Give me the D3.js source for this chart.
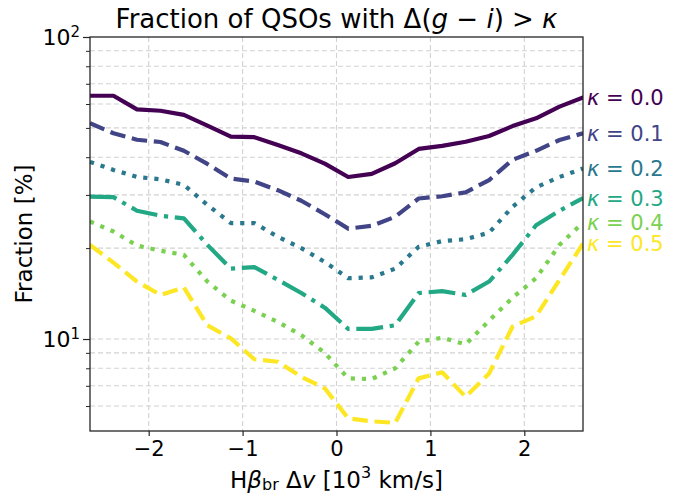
<!DOCTYPE html>
<html>
<head>
<meta charset="utf-8">
<script src="https://cdn.jsdelivr.net/npm/d3@7"></script>
<style>
  body { margin: 0; background: #fff; }
  svg { display: block; font-family: "DejaVu Sans", sans-serif; }
</style>
</head>
<body>
<div id="chart"></div>
<script>
// bin centres of the velocity offset, in 10^3 km/s
const velocity = [-2.625, -2.375, -2.125, -1.875, -1.625, -1.375, -1.125, -0.875, -0.625, -0.375, -0.125,
                  0.125, 0.375, 0.625, 0.875, 1.125, 1.375, 1.625, 1.875, 2.125, 2.375, 2.625];

// fraction [%] of QSOs with Delta(g-i) > kappa
const kappa00 = [63.9, 63.9, 57.6, 57.0, 55.2, 50.9, 46.8, 46.6, 43.9, 41.2, 38.1, 34.4, 35.2, 38.2, 42.6, 43.6, 45.0, 47.0, 50.7, 53.8, 58.8, 63.1];
const kappa01 = [51.8, 48.0, 45.7, 44.9, 42.0, 38.0, 34.0, 33.2, 31.1, 28.7, 25.9, 23.2, 23.7, 25.4, 29.2, 29.7, 30.6, 33.6, 39.2, 42.0, 45.6, 48.0];
const kappa02 = [38.6, 36.3, 34.4, 33.8, 32.4, 27.8, 24.2, 24.2, 21.8, 20.0, 18.0, 15.9, 16.0, 17.1, 20.2, 21.1, 21.4, 22.5, 27.4, 31.8, 34.4, 36.7];
const kappa03 = [29.6, 29.5, 26.6, 25.6, 25.1, 20.5, 17.1, 17.3, 15.7, 14.2, 12.7, 10.8, 10.8, 11.1, 14.2, 14.4, 14.0, 15.5, 19.0, 23.8, 26.6, 29.3];
const kappa04 = [24.5, 22.7, 20.4, 19.6, 19.0, 15.5, 13.4, 12.4, 11.4, 10.3, 9.0, 7.41, 7.37, 8.0, 9.8, 10.1, 9.6, 11.5, 13.7, 15.9, 20.5, 24.3];
const kappa05 = [20.5, 17.9, 15.5, 14.0, 14.8, 11.1, 10.05, 8.57, 8.41, 7.5, 6.87, 5.46, 5.34, 5.28, 7.41, 7.76, 6.44, 7.69, 11.0, 11.9, 15.7, 20.7];

const kappaLabels = ["0.0", "0.1", "0.2", "0.3", "0.4", "0.5"];
const seriesValues = [kappa00, kappa01, kappa02, kappa03, kappa04, kappa05];

const xTicks = [-2, -1, 0, 1, 2];
const yMajorTicks = [10, 100];
const yMinorTicks = [6, 7, 8, 9, 20, 30, 40, 50, 60, 70, 80, 90];

const colors = ["#440154", "#414487", "#2a788e", "#22a884", "#7ad151", "#fde725"];
const lw = 4.2;
const dashes = [
    null,
    [3.7 * lw, 1.6 * lw],
    [1 * lw, 1.65 * lw],
    [6.4 * lw, 1.6 * lw, 1 * lw, 1.6 * lw],
    [1 * lw, 1.65 * lw],
    [3.7 * lw, 1.6 * lw]
];

const width = 697, height = 496;
const margin = { top: 37, right: 114, bottom: 65, left: 90 };
const innerW = width - margin.left - margin.right;
const innerH = height - margin.top - margin.bottom;

const svg = d3.select("#chart").append("svg")
    .attr("width", width)
    .attr("height", height);

const g = svg.append("g")
    .attr("transform", `translate(${margin.left},${margin.top})`);

const x = d3.scaleLinear().domain([-2.625, 2.625]).range([0, innerW]);
const y = d3.scaleLog().domain([4.96, 100]).range([innerH, 0]);

// grid
const grid = g.append("g").attr("stroke", "#d2d2d2").attr("stroke-width", 1.1).attr("stroke-dasharray", "5,3");
grid.selectAll(".gx").data(xTicks).join("line")
    .attr("x1", d => x(d)).attr("x2", d => x(d))
    .attr("y1", 0).attr("y2", innerH);
grid.selectAll(".gy").data(yMinorTicks.concat([10])).join("line")
    .attr("x1", 0).attr("x2", innerW)
    .attr("y1", d => y(d)).attr("y2", d => y(d));

// series
const line = d3.line().x((d, i) => x(velocity[i])).y(d => y(d));

svg.append("clipPath").attr("id", "plotclip")
    .append("rect").attr("width", innerW).attr("height", innerH);

const lines = g.append("g").attr("clip-path", "url(#plotclip)");
seriesValues.forEach((vals, i) => {
    lines.append("path")
        .datum(vals)
        .attr("d", line)
        .attr("fill", "none")
        .attr("stroke", colors[i])
        .attr("stroke-width", lw)
        .attr("stroke-linejoin", "round")
        .attr("stroke-linecap", dashes[i] ? "butt" : "square")
        .attr("stroke-dasharray", dashes[i] ? dashes[i].join(",") : null);
});

// axes frame
g.append("rect")
    .attr("width", innerW).attr("height", innerH)
    .attr("fill", "none").attr("stroke", "#262626").attr("stroke-width", 1.3);

// x axis
const xAxis = g.append("g")
    .attr("transform", `translate(0,${innerH})`)
    .call(d3.axisBottom(x).tickValues(xTicks).tickSize(5).tickPadding(5)
        .tickFormat(d => d < 0 ? "\u2212" + Math.abs(d) : d));
xAxis.select(".domain").remove();
xAxis.selectAll("line").attr("stroke", "#262626").attr("stroke-width", 1.2);
xAxis.selectAll("text").attr("font-size", 21).attr("fill", "#000")
    .attr("font-family", "DejaVu Sans");

// y axis
const yAxis = g.append("g")
    .call(d3.axisLeft(y).tickValues(yMajorTicks).tickSize(7).tickPadding(3).tickFormat(""));
yAxis.select(".domain").remove();
yAxis.selectAll("line").attr("stroke", "#262626").attr("stroke-width", 1.2);
yAxis.selectAll(".tick").each(function (d) {
    const t = d3.select(this).append("text")
        .attr("x", -10).attr("dy", "0.35em")
        .attr("text-anchor", "end")
        .attr("font-size", 22).attr("fill", "#000")
        .attr("font-family", "DejaVu Sans");
    t.append("tspan").text("10");
    t.append("tspan").attr("font-size", 15).attr("dy", "-0.55em").text(Math.round(Math.log10(d)));
});
const yMinor = g.append("g")
    .call(d3.axisLeft(y).tickValues(yMinorTicks).tickSize(4).tickFormat(""));
yMinor.select(".domain").remove();
yMinor.selectAll("line").attr("stroke", "#262626").attr("stroke-width", 1);

// kappa labels at the right end of each curve
seriesValues.forEach((vals, i) => {
    const t = g.append("text")
        .attr("x", innerW + 4)
        .attr("y", y(vals[vals.length - 1]))
        .attr("dy", "0.36em")
        .attr("font-size", 21)
        .attr("fill", colors[i]);
    t.append("tspan").attr("font-style", "italic").text("\u03ba");
    t.append("tspan").text(" = " + kappaLabels[i]);
});

// title
const title = svg.append("text")
    .attr("x", margin.left + innerW / 2)
    .attr("y", 28)
    .attr("text-anchor", "middle")
    .attr("font-size", 26)
    .attr("fill", "#000");
title.append("tspan").text("Fraction of QSOs with \u0394(");
title.append("tspan").attr("font-style", "italic").text("g");
title.append("tspan").text(" \u2212 ");
title.append("tspan").attr("font-style", "italic").text("i");
title.append("tspan").text(") > ");
title.append("tspan").attr("font-style", "italic").text("\u03ba");

// x label
const xLabel = svg.append("text")
    .attr("x", margin.left + innerW / 2)
    .attr("y", 488)
    .attr("text-anchor", "middle")
    .attr("font-size", 23)
    .attr("fill", "#000");
xLabel.append("tspan").text("H");
xLabel.append("tspan").attr("font-style", "italic").text("\u03b2");
xLabel.append("tspan").attr("font-size", 16).attr("dy", "0.12em").text("br");
xLabel.append("tspan").attr("dy", "-0.08em").text(" \u0394");
xLabel.append("tspan").attr("font-style", "italic").text("v");
xLabel.append("tspan").text(" [10");
xLabel.append("tspan").attr("font-size", 16).attr("dy", "-0.6em").text("3");
xLabel.append("tspan").attr("dy", "0.42em").text(" km/s]");

// y label
svg.append("text")
    .attr("transform", `translate(32,${margin.top + innerH / 2}) rotate(-90)`)
    .attr("text-anchor", "middle")
    .attr("font-size", 23)
    .attr("fill", "#000")
    .text("Fraction [%]");
</script>
</body>
</html>
